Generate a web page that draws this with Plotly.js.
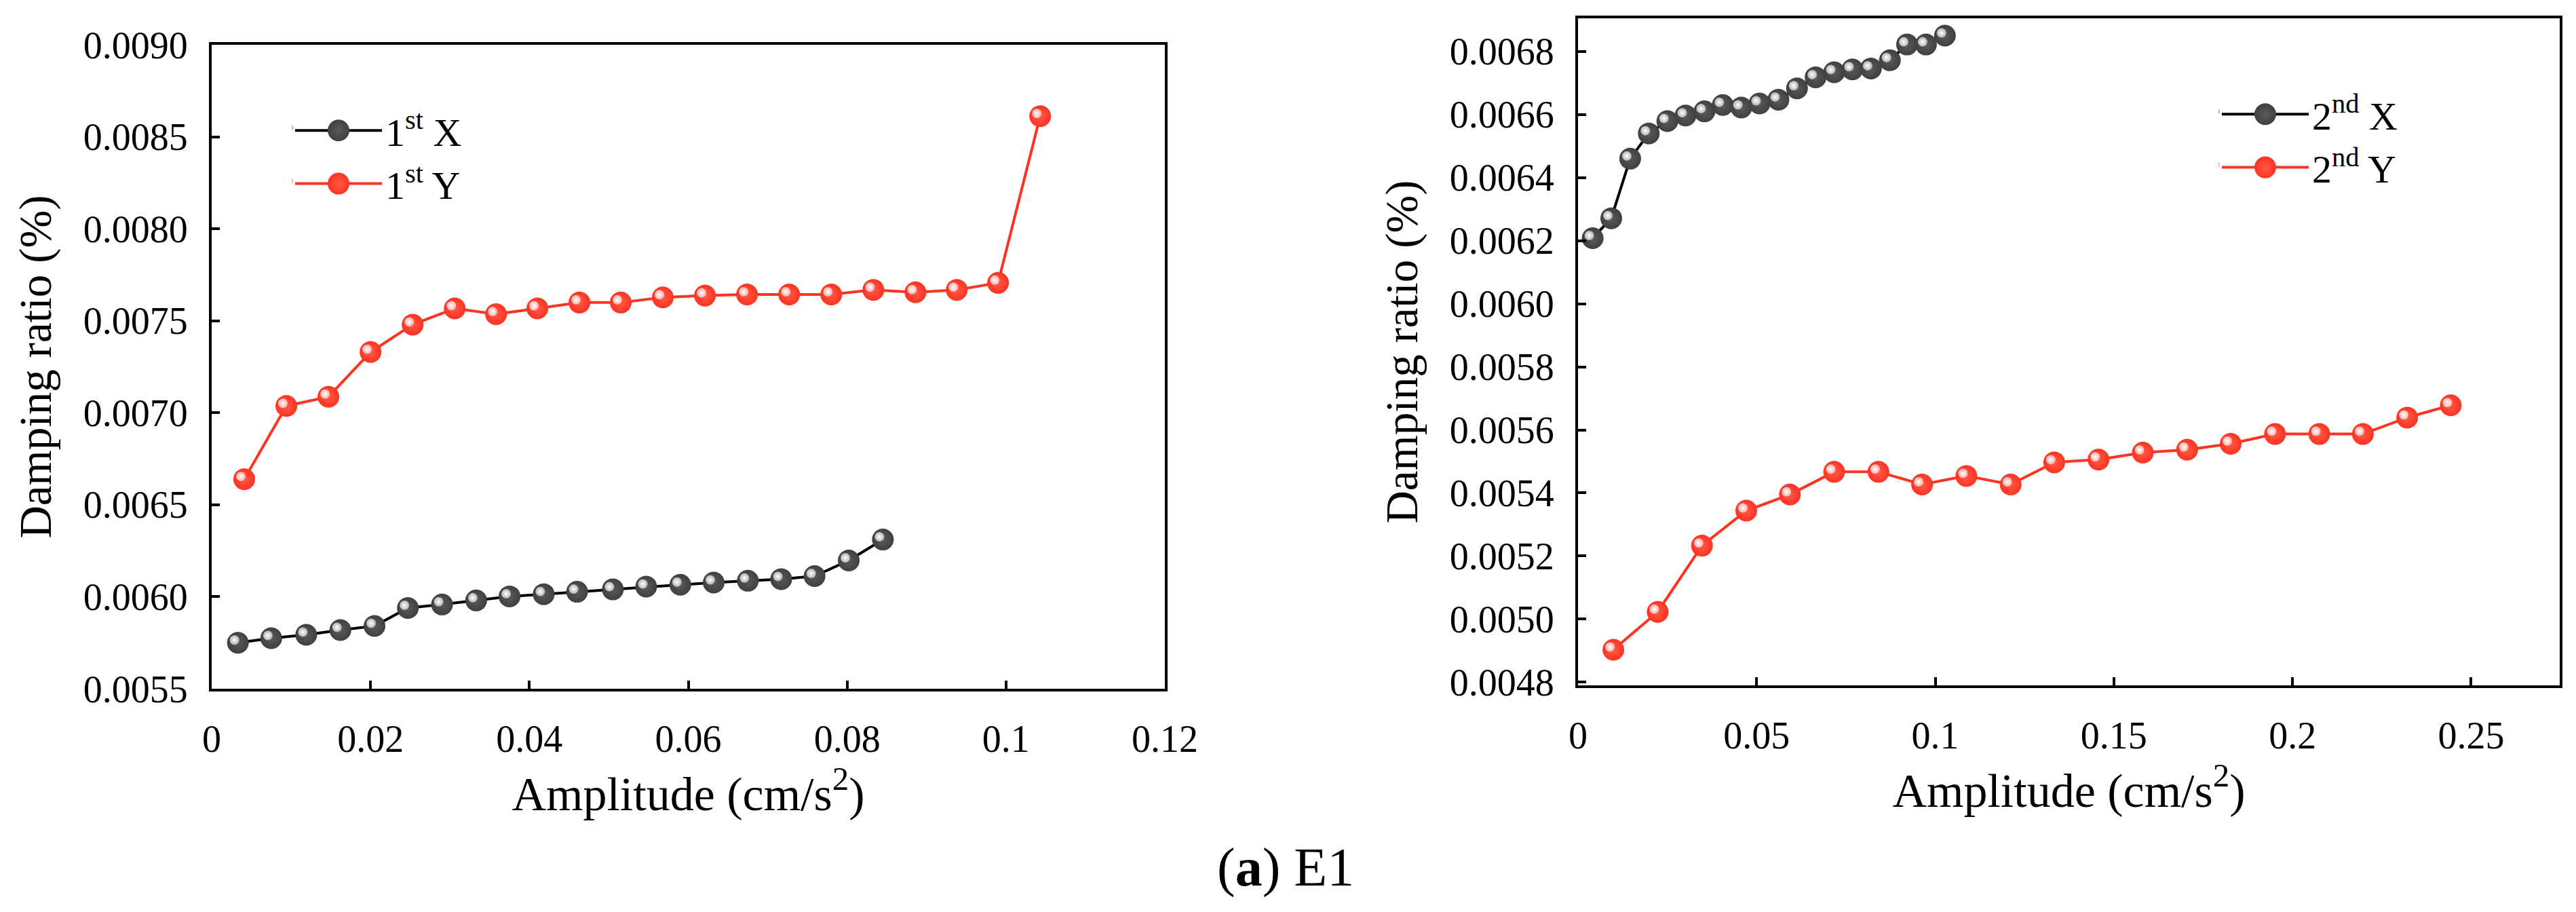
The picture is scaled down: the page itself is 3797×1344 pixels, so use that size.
<!DOCTYPE html>
<html>
<head>
<meta charset="utf-8">
<script src="https://cdn.plot.ly/plotly-3.0.1.min.js"></script>
<style>html,body{margin:0;padding:0;background:#fff;}#chart{width:3797px;height:1344px;}</style>
</head>
<body>
<div id="chart"></div>
<script>
// ---- data ----
var x1X = [0.0033,0.0075,0.0119,0.0162,0.0205,0.0247,0.0290,0.0333,0.0375,0.0418,0.0460,0.0505,0.0547,0.0590,0.0632,0.0675,0.0717,0.0759,0.0802,0.0845];
var y1X = [0.005750,0.005775,0.005793,0.005819,0.005841,0.005939,0.005958,0.005980,0.006002,0.006014,0.006027,0.006040,0.006055,0.006065,0.006077,0.006087,0.006096,0.006112,0.006197,0.006311];
var x1Y = [0.0041,0.0094,0.0147,0.0200,0.0253,0.0306,0.0358,0.0410,0.0463,0.0515,0.0568,0.0621,0.0674,0.0727,0.0780,0.0833,0.0886,0.0938,0.0990,0.1043];
var y1Y = [0.006639,0.007037,0.007087,0.007330,0.007479,0.007567,0.007536,0.007567,0.007599,0.007599,0.007627,0.007637,0.007643,0.007643,0.007643,0.007668,0.007655,0.007668,0.007706,0.008612];
var x2X = [0.0041,0.0093,0.0146,0.0198,0.0250,0.0301,0.0354,0.0405,0.0457,0.0508,0.0561,0.0613,0.0665,0.0717,0.0768,0.0820,0.0873,0.0921,0.0974,0.1027];
var y2X = [0.006208,0.006271,0.006460,0.006540,0.006579,0.006597,0.006610,0.006630,0.006622,0.006635,0.006647,0.006683,0.006718,0.006734,0.006743,0.006746,0.006772,0.006822,0.006822,0.006850];
var x2Y = [0.0099,0.0223,0.0347,0.0471,0.0593,0.0717,0.0841,0.0963,0.1087,0.1211,0.1333,0.1457,0.1581,0.1705,0.1827,0.1951,0.2075,0.2197,0.2321,0.2443];
var y2Y = [0.004903,0.005023,0.005233,0.005344,0.005395,0.005467,0.005467,0.005427,0.005454,0.005427,0.005497,0.005506,0.005528,0.005537,0.005556,0.005587,0.005587,0.005587,0.005639,0.005678];

var seriesNames1 = ['1<sup>st</sup> X', '1<sup>st</sup> Y'];
var seriesNames2 = ['2<sup>nd</sup> X', '2<sup>nd</sup> Y'];

var xTicks1 = [0, 0.02, 0.04, 0.06, 0.08, 0.1, 0.12];
var xTickText1 = ['0', '0.02', '0.04', '0.06', '0.08', '0.1', '0.12'];
var yTicks1 = [0.0055, 0.0060, 0.0065, 0.0070, 0.0075, 0.0080, 0.0085, 0.0090];
var yTickText1 = ['0.0055', '0.0060', '0.0065', '0.0070', '0.0075', '0.0080', '0.0085', '0.0090'];
var xTicks2 = [0, 0.05, 0.1, 0.15, 0.2, 0.25];
var xTickText2 = ['0', '0.05', '0.1', '0.15', '0.2', '0.25'];
var yTicks2 = [0.0048, 0.0050, 0.0052, 0.0054, 0.0056, 0.0058, 0.0060, 0.0062, 0.0064, 0.0066, 0.0068];
var yTickText2 = ['0.0048', '0.0050', '0.0052', '0.0054', '0.0056', '0.0058', '0.0060', '0.0062', '0.0064', '0.0066', '0.0068'];

var xTitle = 'Amplitude (cm/s<sup>2</sup>)';
var yTitle = 'Damping ratio (%)';
var caption = '(<b>a</b>) E1';

// ---- styling ----
var W = 3797, H = 1344;
var FONT = 'Liberation Serif, Times New Roman, serif';
var BLACK = {line: '#000000', body: '#404040', glow: '#5a5a5a', hi: '#b4b4b4'};
var RED = {line: '#ff3322', body: '#ff3322', glow: '#ff5a48', hi: '#ffb0a8'};

function mainTrace(x, y, name, c, xa, ya, leg) {
  return {
    type: 'scatter', mode: 'lines+markers', x: x, y: y, name: name,
    xaxis: xa, yaxis: ya, legend: leg, cliponaxis: false,
    line: {color: c.line, width: 4},
    marker: {size: 32, color: c.body, line: {width: 0},
             gradient: {type: 'radial', color: c.glow}}
  };
}
function hiTrace(x, y, c, xa, ya) {
  return {
    type: 'scatter', mode: 'markers', x: x, y: y, showlegend: false,
    hoverinfo: 'skip', xaxis: xa, yaxis: ya, cliponaxis: false,
    marker: {size: 14, color: c.hi, line: {width: 0},
             gradient: {type: 'radial', color: '#ffffff'}}
  };
}

var traces = [
  mainTrace(x1X, y1X, seriesNames1[0], BLACK, 'x', 'y', 'legend'),
  mainTrace(x1Y, y1Y, seriesNames1[1], RED, 'x', 'y', 'legend'),
  mainTrace(x2X, y2X, seriesNames2[0], BLACK, 'x2', 'y2', 'legend2'),
  mainTrace(x2Y, y2Y, seriesNames2[1], RED, 'x2', 'y2', 'legend2'),
  hiTrace(x1X, y1X, BLACK, 'x3', 'y3'),
  hiTrace(x1Y, y1Y, RED, 'x3', 'y3'),
  hiTrace(x2X, y2X, BLACK, 'x4', 'y4'),
  hiTrace(x2Y, y2Y, RED, 'x4', 'y4')
];

// plot frames in pixels
var P1 = {l: 312, r: 1717, t: 66, b: 1015};
var P2 = {l: 2326, r: 3773, t: 27, b: 1010};
var RANGE_X1 = [0, 0.12], RANGE_Y1 = [0.0055, 0.0090];
var RANGE_X2 = [0, 0.2748], RANGE_Y2 = [0.00479, 0.006905];
var HDX = -5, HDY = -4; // highlight offset in px

function xd(p, dx) { return [(p.l + dx) / W, (p.r + dx) / W]; }
function yd(p, dy) { return [1 - (p.b + dy) / H, 1 - (p.t + dy) / H]; }

function xAxis(p, range, tv, tt, anchor) {
  return {
    domain: xd(p, 0), range: range, anchor: anchor,
    showline: true, mirror: true, linecolor: '#000', linewidth: 4,
    ticks: 'inside', ticklen: 12, tickwidth: 4, tickcolor: '#000',
    tickvals: tv, ticktext: tt, showgrid: false, zeroline: false,
    tickfont: {family: FONT, size: 56, color: '#000'}, ticklabelstandoff: 22,
    title: {text: xTitle, font: {family: FONT, size: 70, color: '#000'}, standoff: 8}
  };
}
function yAxis(p, range, tv, tt, anchor) {
  return {
    domain: yd(p, 0), range: range, anchor: anchor,
    showline: true, mirror: true, linecolor: '#000', linewidth: 4,
    ticks: 'inside', ticklen: 12, tickwidth: 4, tickcolor: '#000',
    tickvals: tv, ticktext: tt, showgrid: false, zeroline: false,
    tickfont: {family: FONT, size: 56, color: '#000'}, ticklabelstandoff: 20,
    title: {text: yTitle, font: {family: FONT, size: 67, color: '#000'}, standoff: 26}
  };
}
function hiAxisX(p, range, anchor) {
  return {domain: xd(p, HDX), range: range, anchor: anchor, visible: false, showgrid: false, zeroline: false};
}
function hiAxisY(p, range, anchor) {
  return {domain: yd(p, HDY), range: range, anchor: anchor, visible: false, showgrid: false, zeroline: false};
}

var layout = {
  width: W, height: H,
  margin: {l: 0, r: 0, t: 0, b: 0, pad: 0},
  paper_bgcolor: '#ffffff', plot_bgcolor: 'rgba(0,0,0,0)',
  font: {family: FONT, color: '#000'},
  showlegend: true,
  xaxis: xAxis(P1, RANGE_X1, xTicks1, xTickText1, 'y'),
  yaxis: yAxis(P1, RANGE_Y1, yTicks1, yTickText1, 'x'),
  xaxis2: xAxis(P2, RANGE_X2, xTicks2, xTickText2, 'y2'),
  yaxis2: yAxis(P2, RANGE_Y2, yTicks2, yTickText2, 'x2'),
  xaxis3: hiAxisX(P1, RANGE_X1, 'y3'),
  yaxis3: hiAxisY(P1, RANGE_Y1, 'x3'),
  xaxis4: hiAxisX(P2, RANGE_X2, 'y4'),
  yaxis4: hiAxisY(P2, RANGE_Y2, 'x4'),
  legend: {x: 430 / W, y: 1 - 148 / H, xanchor: 'left', yanchor: 'top',
           bgcolor: 'rgba(0,0,0,0)', borderwidth: 0, itemwidth: 128,
           font: {family: FONT, size: 58, color: '#000'}, traceorder: 'normal'},
  legend2: {x: 3270 / W, y: 1 - 124 / H, xanchor: 'left', yanchor: 'top',
            bgcolor: 'rgba(0,0,0,0)', borderwidth: 0, itemwidth: 128,
            font: {family: FONT, size: 58, color: '#000'}, traceorder: 'normal'},
  annotations: [{
    text: caption, xref: 'paper', yref: 'paper', x: 1895 / W, y: 1 - 1278 / H,
    xanchor: 'center', yanchor: 'middle', showarrow: false,
    font: {family: FONT, size: 80, color: '#000'}
  }]
};

// legend glyphs: give the sample marker the same sphere look as the plotted points
function circlePath(r, cx, cy) {
  return 'M' + (cx + r) + ',' + cy + 'A' + r + ',' + r + ' 0 1,1 ' + cx + ',' + (cy - r) +
         'A' + r + ',' + r + ' 0 0,1 ' + (cx + r) + ',' + cy + 'Z';
}
function styleLegendSpheres(gd) {
  var items = gd.querySelectorAll('.legendpoints path.scatterpts');
  items.forEach(function(p, i) {
    p.setAttribute('d', circlePath(16, 0, 0));
    var c = (i % 2 === 1) ? RED : BLACK;
    var ring = document.createElementNS('http://www.w3.org/2000/svg', 'path');
    ring.setAttribute('d', circlePath(7, HDX, HDY));
    ring.setAttribute('style', 'fill:' + c.hi + ';stroke:none;opacity:1');
    var dot = document.createElementNS('http://www.w3.org/2000/svg', 'path');
    dot.setAttribute('d', circlePath(3, HDX, HDY));
    dot.setAttribute('style', 'fill:#ffffff;stroke:none;opacity:1');
    p.parentNode.appendChild(ring);
    p.parentNode.appendChild(dot);
  });
}

Plotly.newPlot('chart', traces, layout, {staticPlot: true, displayModeBar: false})
  .then(styleLegendSpheres);
</script>
</body>
</html>
